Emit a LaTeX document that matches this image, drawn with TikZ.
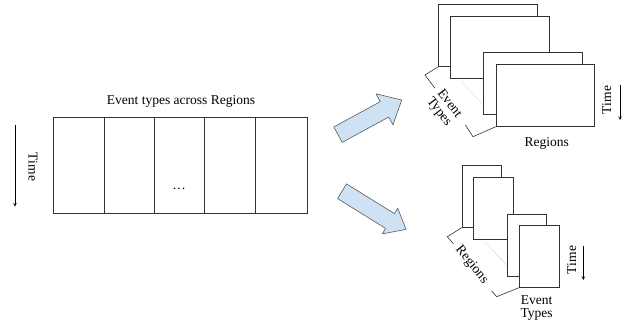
\documentclass[tikz,border=0pt]{standalone}
\usepackage{fontspec}
\setmainfont{Liberation Serif}

\definecolor{flowblue}{HTML}{CFE2F3}

\tikzset{
	sheet/.style = {draw = black!80, fill = white, line width = 0.7pt, anchor = south west, inner sep = 0pt, minimum height = 62pt},
	wide sheet/.style = {sheet, minimum width = 98.5pt},
	narrow sheet/.style = {sheet, minimum width = 39.5pt},
	flow/.style = {draw = black!65, fill = flowblue, line width = 0.6pt, line join = round},
	lbl/.style = {font = \fontsize{13.5}{13}\selectfont, inner sep = 0pt, align = center},
	timeline/.style = {-stealth, line width = 0.6pt},
	bracket/.style = {line width = 0.6pt, black!80},
	depth/.style = {densely dotted, gray}
}

\begin{document}
\begin{tikzpicture}[x = 1pt, y = -1pt]
	\useasboundingbox (0, 0) rectangle (630, 322);
	
	% table on the left
	\node[sheet, minimum width = 253.4pt, minimum height = 96.7pt] (table) at (53.3, 214) {};
	\foreach \xd in {104.3, 154.7, 204, 255.3}
		\draw[black!80, line width = 0.7pt] (\xd, 117.3) -- (\xd, 214);
	\node[lbl] (title) at (181, 101.7) {Event types across Regions};
	\node[lbl] (dots) at (179, 189) {\dots};
	\coordinate (ttop) at (15, 125);
	\coordinate (tbot) at (15, 206.7);
	\draw[timeline] (ttop) -- (tbot);
	\node[lbl, rotate = -90] (time) at (33, 167) {Time};
	
	% splitting arrows
	\draw[flow] (333.8, 127) -- (380.3, 101.6) -- (376, 93.8) -- (401.7, 100)
		-- (393, 124.8) -- (388.7, 117) -- (342.2, 142.4) -- cycle;
	\draw[flow] (346.4, 183.8) -- (394.4, 213.6) -- (397.7, 208.1) -- (406, 229.3)
		-- (382.3, 233.9) -- (385.6, 228.4) -- (337.6, 198.6) -- cycle;
	
	% stack per event type
	\node[wide sheet] (e1) at (438.3, 66.7) {};
	\node[wide sheet] (e2) at (450, 78.3) {};
	\draw[depth] (461.7, 81.7) -- (481.7, 103.3);
	\node[wide sheet] (e3) at (483.3, 115) {};
	\node[wide sheet] (e4) at (495.7, 126.7) {};
	\draw[bracket] (e1.south west) -- ++(-13.3, 8.3) -- ++(10, 13.3);
	\draw[bracket] (e4.south west) -- ++(-22.7, 10) -- ++(-7.6, -11.7);
	\node[lbl, rotate = -52] (etypes) at (444, 108) {Event\\Types};
	\node[lbl] (regions) at (546.7, 143.3) {Regions};
	\node[lbl, rotate = 90] (time2) at (606.7, 100) {Time};
	\coordinate (t2top) at (620, 85);
	\coordinate (t2bot) at (620, 120);
	\draw[timeline] (t2top) -- (t2bot);
	
	% stack per region
	\node[narrow sheet] (r1) at (461.7, 227.7) {};
	\node[narrow sheet] (r2) at (473.3, 239.3) {};
	\draw[depth] (485, 241.7) -- (506.7, 265);
	\node[narrow sheet] (r3) at (506.7, 276.3) {};
	\node[narrow sheet] (r4) at (519, 287.7) {};
	\draw[bracket] (r1.south west) -- ++(-14.4, 9) -- ++(6, 7);
	\draw[bracket] (r4.south west) -- ++(-22.3, 9) -- ++(-5, -5.7);
	\node[lbl, rotate = -51] (regions2) at (471.7, 265) {Regions};
	\node[lbl] (etypes2) at (536.7, 308) {Event\\Types};
	\node[lbl, rotate = 90] (time3) at (571.7, 260) {Time};
	\coordinate (t3top) at (583.3, 245.7);
	\coordinate (t3bot) at (583.3, 280);
	\draw[timeline] (t3top) -- (t3bot);
\end{tikzpicture}
\end{document}
